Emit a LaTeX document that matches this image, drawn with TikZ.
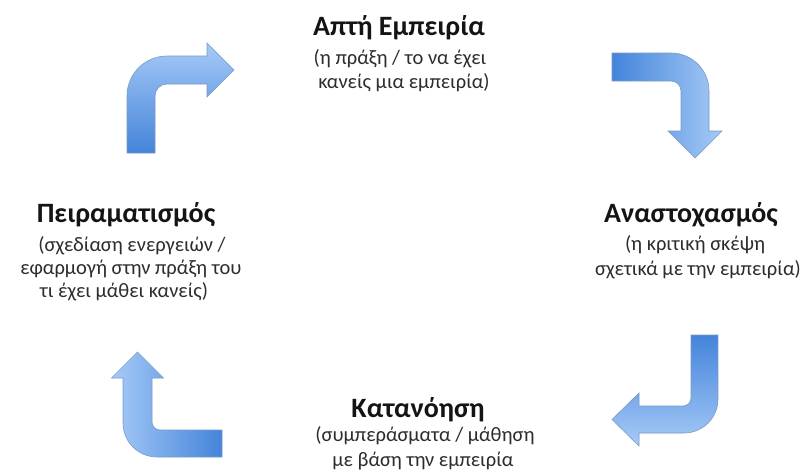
\documentclass[tikz,border=0pt]{standalone}
\usepackage{fontspec}
\setmainfont{Carlito}
\definecolor{arrdark}{RGB}{68,132,218}
\definecolor{arrlight}{RGB}{166,202,247}
\definecolor{arredge}{RGB}{120,155,200}
\definecolor{titlecol}{RGB}{20,20,20}
\definecolor{subcol}{RGB}{45,45,45}
\begin{document}
\begin{tikzpicture}[x=1pt,y=-1pt,
  titletext/.style={font=\fontsize{28}{33}\selectfont\bfseries, text=titlecol, anchor=base, inner sep=0pt},
  subtext/.style={font=\fontsize{20.5}{24}\selectfont, text=subcol, anchor=base, inner sep=0pt},
  bentarrow/.style={draw=arredge, line width=0.6pt, line join=miter}]
\useasboundingbox (0,0) rectangle (804,474);
\fill[white] (0,0) rectangle (804,474);

% top-left arrow (up, then right)
\shadedraw[bentarrow, top color=arrlight, bottom color=arrdark]
  (127,153) -- (127,96) .. controls (127,73.9) and (144.9,56) .. (167,56)
  -- (207,56) -- (207,43) -- (234,70) -- (207,97) -- (207,84) -- (167,84)
  .. controls (160.4,84) and (155,89.4) .. (155,96) -- (155,153) -- cycle;

% top-right arrow (right, then down)
\shadedraw[bentarrow, left color=arrdark, right color=arrlight]
  (612,53) -- (671,53) .. controls (692,53) and (709,70) .. (709,91)
  -- (709,131) -- (722,131) -- (695,158) -- (668,131) -- (681,131) -- (681,91)
  .. controls (681,85.5) and (676.5,81) .. (671,81) -- (612,81) -- cycle;

% bottom-right arrow (down, then left)
\shadedraw[bentarrow, top color=arrdark, bottom color=arrlight]
  (691,335) -- (718,335) -- (718,399) .. controls (718,417.8) and (702.8,433) .. (684,433)
  -- (639,433) -- (639,446) -- (612,419.5) -- (639,393) -- (639,406) -- (683,406)
  .. controls (687.4,406) and (691,402.4) .. (691,398) -- cycle;

% bottom-left arrow (left, then up)
\shadedraw[bentarrow, right color=arrdark, left color=arrlight]
  (222,457) -- (157,457) .. controls (138.2,457) and (123,441.8) .. (123,423)
  -- (123,378) -- (111.5,378) -- (137.5,352) -- (163.5,378) -- (152,378) -- (152,422)
  .. controls (152,426.4) and (155.6,430) .. (160,430) -- (222,430) -- cycle;

% top block
\node[titletext] (topT) at (399,35) {Απτή Εμπειρία};
\node[subtext] (topA) at (400,64) {(η πράξη / το να έχει};
\node[subtext] (topB) at (404,88.5) {κανείς μια εμπειρία)};

% right block
\node[titletext] (rightT) at (691,222) {Αναστοχασμός};
\node[subtext] (rightA) at (695,250) {(η κριτική σκέψη};
\node[subtext] (rightB) at (698,275) {σχετικά με την εμπειρία)};

% left block
\node[titletext] (leftT) at (126,222) {Πειραματισμός};
\node[subtext] (leftA) at (132,251) {(σχεδίαση ενεργειών /};
\node[subtext] (leftB) at (131,274) {εφαρμογή στην πράξη του};
\node[subtext] (leftC) at (124,297) {τι έχει μάθει κανείς)};

% bottom block
\node[titletext] (botT) at (418,417) {Κατανόηση};
\node[subtext] (botA) at (425,441.7) {(συμπεράσματα / μάθηση};
\node[subtext] (botB) at (423,466) {με βάση την εμπειρία};
\end{tikzpicture}
\end{document}
